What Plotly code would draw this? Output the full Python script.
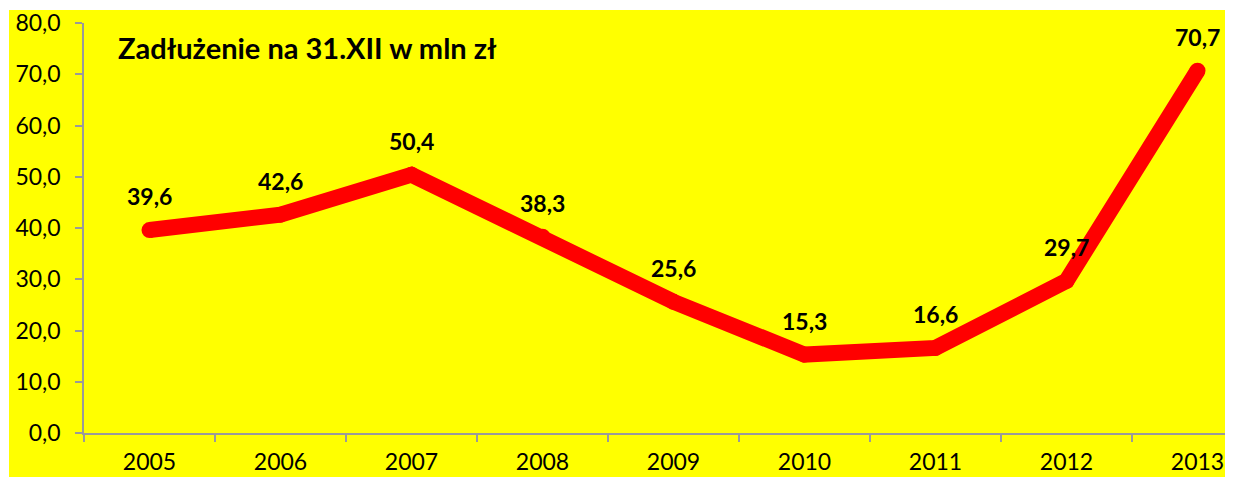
import plotly.graph_objects as go

years = ["2005", "2006", "2007", "2008", "2009", "2010", "2011", "2012", "2013"]
debt = [39.6, 42.6, 50.4, 38.3, 25.6, 15.3, 16.6, 29.7, 70.7]
labels = ["39,6", "42,6", "50,4", "38,3", "25,6", "15,3", "16,6", "29,7", "70,7"]
title_text = "Zadłużenie na 31.XII w mln zł"

xs = list(range(len(years)))
FONT = "Lato"
OFF = 8  # default page body margin

TOP = 23  # screen y of the plot top
PW, PH = 1141, 433 - TOP  # plot area size in pixels

fig = go.Figure()
fig.add_trace(go.Scatter(
    x=xs, y=debt, mode="lines+markers",
    line=dict(color="#ff0000", width=16),
    marker=dict(color="#ff0000", size=16, line=dict(width=0)),
    hoverinfo="skip", showlegend=False, cliponaxis=False,
))

for x, y, t in zip(xs, debt, labels):
    fig.add_annotation(x=x, y=y, text=t, showarrow=False, yshift=34,
                       font=dict(family=FONT, size=23, color="#000000", weight="bold"))

fig.add_annotation(xref="paper", yref="paper", x=(116 - 84) / PW, y=(433 - 47) / PH,
                   xanchor="left", yanchor="middle", text=title_text, showarrow=False,
                   font=dict(family=FONT, size=29, color="#000000", weight="bold"))

fig.add_shape(type="rect", xref="paper", yref="paper",
              x0=(9 - 84) / PW, x1=1.0, y0=-50 / PH, y1=(433 - 10) / PH,
              fillcolor="#ffff00", line=dict(width=0), layer="below")

fig.update_layout(
    width=1235 - OFF, height=477 - OFF,
    margin=dict(l=84 - OFF, r=10, t=TOP - OFF, b=44, autoexpand=False),
    paper_bgcolor="white", plot_bgcolor="rgba(0,0,0,0)",
    separators=", ",
    font=dict(family=FONT, size=23, color="#000000"),
)
fig.update_xaxes(
    range=[-0.5, -0.5 + PW / 131], tickvals=xs, ticktext=years,
    ticks="", showgrid=False, zeroline=False, automargin=False,
    ticklabeloverflow="allow",
    showline=True, linecolor="#9a9a9a", linewidth=1.5,
    tickfont=dict(family=FONT, size=23), ticklabelstandoff=8,
    minor=dict(tickvals=[i - 0.5 for i in range(len(years) + 1)], ticks="outside",
               ticklen=7, tickcolor="#9a9a9a", tickwidth=1.5, showgrid=False),
)
fig.update_yaxes(
    range=[0, 80], dtick=10, tickformat=".1f", showgrid=False, zeroline=False,
    automargin=False, ticklabeloverflow="allow",
    showline=True, linecolor="#9a9a9a", linewidth=1.5,
    ticks="outside", ticklen=7, tickcolor="#9a9a9a", tickwidth=1.5,
    tickfont=dict(family=FONT, size=23), ticklabelstandoff=10,
)

fig.write_html("out.html")
